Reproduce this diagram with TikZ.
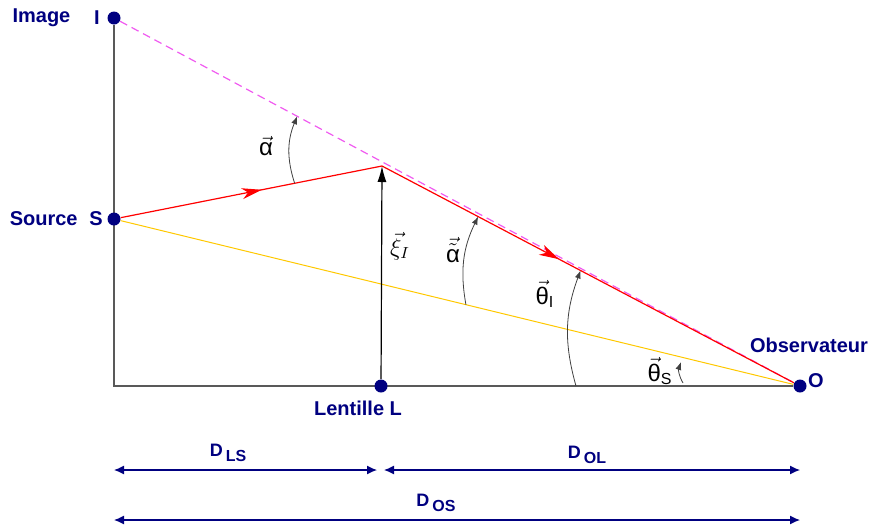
\documentclass[tikz,border=0pt]{standalone}
\usepackage{fontspec}
\usepackage{amsmath}
\setmainfont{Liberation Sans}
\usetikzlibrary{arrows.meta, positioning, decorations.markings, calc, backgrounds}
\definecolor{navyblue}{RGB}{0,0,128}
\definecolor{raygold}{RGB}{255,200,0}
\definecolor{imgpink}{RGB}{240,90,240}
\newcommand{\dimsub}[1]{\raisebox{-0.55ex}{\fontsize{8}{9}\selectfont #1}}

\begin{document}
\begin{tikzpicture}[
    x=0.5pt, y=-0.5pt,
    point/.style={circle, fill=navyblue, inner sep=0pt, minimum size=6.5pt},
    lbl/.style={font=\fontsize{10}{12}\selectfont\bfseries, text=navyblue, inner sep=0pt},
    dimlbl/.style={font=\fontsize{9}{11}\selectfont\bfseries, text=navyblue, inner sep=0pt},
    sym/.style={font=\fontsize{12}{14}\selectfont, inner sep=0pt},
    axis/.style={draw=black!65, line width=0.6pt},
    ray/.style={red, line width=0.6pt},
    dimline/.style={{Latex[length=5pt, width=4.5pt]}-{Latex[length=5pt, width=4.5pt]}, navyblue, line width=0.6pt},
    angarc/.style={-{Latex[length=4pt, width=3pt]}, black!75, line width=0.4pt},
    midarrow/.style={postaction={decorate}, decoration={markings, mark=at position #1 with {\arrow{Stealth[length=10pt, width=5.5pt, inset=3pt]}}}}
]
    \useasboundingbox (0,0) rectangle (871,531);

    % Points
    \node[point] (I) at (114,18) {};
    \node[point] (S) at (114,219) {};
    \node[point] (L) at (381,386) {};
    \node[point] (O) at (800,386) {};
    \coordinate (C) at (114,386);
    \coordinate (D) at (382,166);

    % Point labels
    \node[lbl, left=3.5pt of I] (Itxt) {I};
    \node[lbl, left=11.5pt of Itxt] (Imgtxt) {Image};
    \node[lbl, left=2pt of S] (Stxt) {S};
    \node[lbl, left=5.5pt of Stxt] (Srctxt) {Source};
    \node[lbl] (Ltxt) at (358,408) {Lentille L};
    \node[lbl] (Obstxt) at (809,345) {Observateur};
    \node[lbl] (Otxt) at (816,381) {O};

    % Rays and axes
    \begin{scope}[on background layer]
        \draw[axis] (I) -- (C) -- (O);
        \draw[imgpink, line width=0.6pt, dash pattern=on 4pt off 2.5pt] (I) -- (O);
        \draw[raygold, line width=0.5pt] (S) -- (O);
        \draw[ray, midarrow=0.54] (S) -- (D);
        \draw[ray, midarrow=0.43] (D) -- (O);
        \draw[-{Latex[length=8pt, width=4.5pt]}, line width=0.6pt] (L) -- (D);
    \end{scope}

    % Angles
    \draw[angarc] ($(S)!0.674!(D)$) to[bend left=20] ($(I)!0.267!(O)$);
    \draw[angarc] ($(S)!0.513!(O)$) to[bend left=18] ($(D)!0.230!(O)$);
    \draw[angarc] (576,386) to[bend left=18] ($(D)!0.475!(O)$);
    \draw[angarc] (683,383) to[bend left=25] (681,362);

    \node[sym] (alpha) at (266,146) {$\vec{\text{α}}$};
    \node[sym] (xi) at (400,246) {$\vec{\xi}_I$};
    \node[sym] (alphat) at (453,250) {$\vec{\tilde{\text{α}}}$};
    \node[sym] (thetaI) at (545,294) {$\vec{\text{θ}}_{\text{I}}$};
    \node[sym] (thetaS) at (660,371) {$\vec{\text{θ}}_{\text{S}}$};

    % Distances
    \coordinate (dl1) at (114,470);
    \coordinate (dl2) at (377,470);
    \coordinate (dr1) at (384,470);
    \coordinate (dr2) at (800,470);
    \coordinate (da1) at (114,520);
    \coordinate (da2) at (800,520);
    \draw[dimline] (dl1) -- (dl2);
    \draw[dimline] (dr1) -- (dr2);
    \draw[dimline] (da1) -- (da2);
    \node[dimlbl] (dls) at (228,453) {D\,\dimsub{LS}};
    \node[dimlbl] (dol) at (587,455) {D\,\dimsub{OL}};
    \node[dimlbl] (dos) at (436,503) {D\,\dimsub{OS}};
\end{tikzpicture}
\end{document}
